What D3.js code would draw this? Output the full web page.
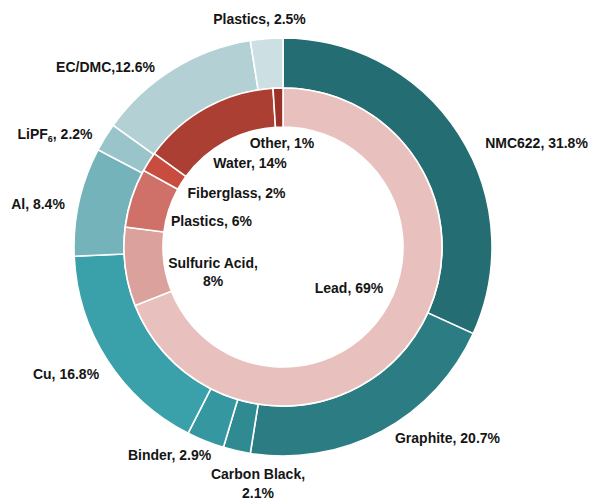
<!DOCTYPE html>
<html><head><meta charset="utf-8">
<script src="https://cdn.jsdelivr.net/npm/d3@7/dist/d3.min.js"></script>
<style>body{margin:0;background:#fff}svg{display:block}</style>
</head><body>
<script>
const outerLabels = ["NMC622", "Graphite", "Carbon Black", "Binder", "Cu", "Al", "LiPF6", "EC/DMC", "Plastics"];
const outerValues = [31.8, 20.7, 2.1, 2.9, 16.8, 8.4, 2.2, 12.6, 2.5];
const outerText = ["NMC622, 31.8%", "Graphite, 20.7%", "Carbon Black,|2.1%", "Binder, 2.9%", "Cu, 16.8%", "Al, 8.4%", "LiPF6, 2.2%", "EC/DMC,12.6%", "Plastics, 2.5%"];
const innerLabels = ["Lead", "Sulfuric Acid", "Plastics", "Fiberglass", "Water", "Other"];
const innerValues = [69, 8, 6, 2, 14, 1];
const innerText = ["Lead, 69%", "Sulfuric Acid,|8%", "Plastics, 6%", "Fiberglass, 2%", "Water, 14%", "Other, 1%"];

const outerColors = ["#246d72", "#2b7d83", "#2f8b91", "#3597a0", "#3aa1ab", "#74b3b9", "#99c4ca", "#b3d0d5", "#cce0e3"];
const innerColors = ["#e8c1be", "#dba19c", "#d07169", "#c84c40", "#ac3f33", "#9c3128"];
// label anchor offsets from the chart centre (layout only)
const outerLabelPos = [[253.5,-104],[164.5,191],[-25,236.5],[-113.5,208],[-217,127],[-245,-43],[-228,-113],[-177.5,-180],[-23.5,-228]];
const innerLabelPos = [[66,41],[-70,25],[-71.5,-26],[-46.5,-54],[-33,-84],[-1,-104]];

const W = 590, H = 500, cx = 283, cy = 247;
const svg = d3.select("body").append("svg").attr("width", W).attr("height", H);
const g = svg.append("g").attr("transform", `translate(${cx},${cy})`);

const pie = d3.pie().sort(null).value(d => d).startAngle(0).endAngle(2 * Math.PI);
const outerArc = d3.arc().innerRadius(159).outerRadius(209);
const innerArc = d3.arc().innerRadius(120).outerRadius(159);

g.append("g").selectAll("path").data(pie(outerValues)).join("path")
  .attr("d", outerArc).attr("fill", (d, i) => outerColors[i])
  .attr("stroke", "#fff").attr("stroke-width", 1.6);
g.append("g").selectAll("path").data(pie(innerValues)).join("path")
  .attr("d", innerArc).attr("fill", (d, i) => innerColors[i])
  .attr("stroke", "#fff").attr("stroke-width", 1.6);

function addLabel(str, pos) {
  const t = g.append("text").attr("x", pos[0]).attr("y", pos[1])
    .attr("text-anchor", "middle")
    .attr("font-family", "Liberation Sans, Arial, sans-serif")
    .attr("font-weight", "bold").attr("font-size", 14).attr("fill", "#151515");
  const lines = str.split("|");
  const y0 = lines.length > 1 ? -9 : 0;
  lines.forEach((ln, k) => {
    const ts = t.append("tspan").attr("x", pos[0]).attr("y", pos[1] + y0 + k * 18.5).attr("dy", "0.35em");
    if (ln.startsWith("LiPF6")) {
      ts.append("tspan").text("LiPF");
      ts.append("tspan").attr("font-size", 9).attr("dy", 3).text("6");
      ts.append("tspan").attr("dy", -3).text(ln.slice(5));
    } else {
      ts.text(ln);
    }
  });
}
outerText.forEach((s, i) => addLabel(s, outerLabelPos[i]));
innerText.forEach((s, i) => addLabel(s, innerLabelPos[i]));
</script>
</body></html>
